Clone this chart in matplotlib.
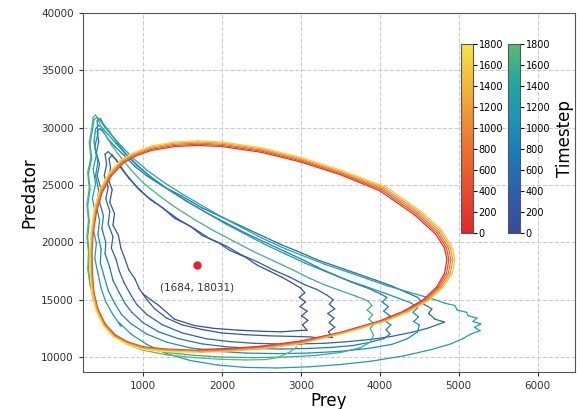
import numpy as np
import matplotlib.pyplot as plt
from matplotlib.collections import LineCollection
from matplotlib.colors import LinearSegmentedColormap, Normalize
from matplotlib.cm import ScalarMappable

# deterministic orbit, 5 loops growing slowly outwards (red -> yellow)
det_prey = [
    1700, 2100, 2500, 3000, 3500, 4000, 4300, 4550, 4720, 4820, 4850, 4820, 4710, 4440, 4000, 3500, 3000, 2500, 2000,
    1700, 1400, 1100, 900, 750, 600, 480, 410, 370, 355, 360, 380, 430, 520, 650, 800, 1000, 1300,
    1700, 2100, 2500, 3000, 3520, 4020, 4320, 4570, 4740, 4845, 4875, 4845, 4730, 4460, 4020, 3500, 3000, 2500, 2000,
    1700, 1400, 1100, 893, 743, 593, 473, 403, 363, 348, 353, 373, 424, 514, 644, 800, 1000, 1300,
    1700, 2100, 2500, 3000, 3540, 4040, 4340, 4590, 4760, 4870, 4900, 4870, 4750, 4480, 4040, 3500, 3000, 2500, 2000,
    1700, 1400, 1100, 886, 736, 586, 466, 396, 356, 341, 346, 366, 418, 508, 638, 800, 1000, 1300,
    1700, 2100, 2500, 3000, 3560, 4060, 4360, 4610, 4780, 4895, 4925, 4895, 4770, 4500, 4060, 3500, 3000, 2500, 2000,
    1700, 1400, 1100, 879, 729, 579, 459, 389, 349, 334, 339, 359, 412, 502, 632, 800, 1000, 1300,
    1700, 2100, 2500, 3000, 3580, 4080, 4380, 4630, 4800, 4920, 4950, 4920, 4790, 4520, 4080, 3500, 3000, 2500, 2000,
    1700, 1400, 1100, 872, 722, 572, 452, 382, 342, 327, 332, 352, 406, 496, 626, 800, 1000, 1300, 1700,
]
det_pred = [
    10650, 10750, 10950, 11400, 12150, 13150, 14000, 15000, 16100, 17300, 18500, 19500, 20700, 22400, 24500, 25900, 27000, 27850, 28350,
    28450, 28350, 28000, 27500, 26900, 25800, 24300, 22600, 20800, 19200, 17300, 15600, 14200, 12900, 11900, 11350, 10900, 10700,
    10590, 10690, 10890, 11340, 12150, 13150, 14000, 15000, 16100, 17300, 18500, 19500, 20780, 22480, 24580, 26000, 27100, 27950, 28450,
    28550, 28450, 28100, 27570, 26970, 25870, 24370, 22670, 20800, 19200, 17300, 15600, 14160, 12860, 11860, 11290, 10840, 10640,
    10530, 10630, 10830, 11280, 12150, 13150, 14000, 15000, 16100, 17300, 18500, 19500, 20860, 22560, 24660, 26100, 27200, 28050, 28550,
    28650, 28550, 28200, 27640, 27040, 25940, 24440, 22740, 20800, 19200, 17300, 15600, 14120, 12820, 11820, 11230, 10780, 10580,
    10470, 10570, 10770, 11220, 12150, 13150, 14000, 15000, 16100, 17300, 18500, 19500, 20940, 22640, 24740, 26200, 27300, 28150, 28650,
    28750, 28650, 28300, 27710, 27110, 26010, 24510, 22810, 20800, 19200, 17300, 15600, 14080, 12780, 11780, 11170, 10720, 10520,
    10410, 10510, 10710, 11160, 12150, 13150, 14000, 15000, 16100, 17300, 18500, 19500, 21020, 22720, 24820, 26300, 27400, 28250, 28750,
    28850, 28750, 28400, 27780, 27180, 26080, 24580, 22880, 20800, 19200, 17300, 15600, 14040, 12740, 11740, 11110, 10660, 10460, 10410,
]

# stochastic run (blue -> green)
sto_prey = [
    # loop 1
    1000, 1200, 1400, 1650, 1900, 2200, 2500, 2750, 2950, 3080, 3020, 3090, 3010, 3080, 2990, 3060, 2980, 3050, 3000,
    2880, 2750, 2600, 2450, 2300, 2100, 1950, 1750, 1600, 1400, 1250, 1100, 950, 820, 720, 660, 610, 570,
    590, 560, 610, 580, 640, 620, 690, 720, 770, 820, 900,
    # loop 2
    950, 1050, 1150, 1300, 1500, 1750, 2000, 2300, 2600, 2900, 3150, 3400, 3350, 3430, 3360, 3420, 3340, 3430, 3360, 3410, 3330,
    3200, 3050, 2850, 2650, 2450, 2250, 2050, 1850, 1650, 1450, 1250, 1050, 900, 780, 680, 610, 560, 520,
    540, 510, 560, 530, 580, 560, 620, 600, 660, 700, 760, 840,
    # loop 3
    920, 1050, 1250, 1500, 1800, 2100, 2400, 2700, 3000, 3300, 3600, 3900, 4150, 4400, 4600, 4820,
    4700, 4620, 4660, 4560, 4480, 4350, 4150, 3950, 3700, 3450, 3200, 3000, 2750, 2500, 2250, 2000, 1750, 1500, 1250,
    1050, 900, 760, 650, 560, 500, 460, 420,
    440, 410, 450, 420, 470, 450, 500, 480, 530, 520, 580, 620, 700, 780,
    # loop 4
    860, 1000, 1200, 1450, 1750, 2050, 2400, 2750, 3100, 3400, 3650, 3850, 4050, 4130,
    4080, 4140, 4060, 4130, 4050, 4110, 4030, 4090, 4010,
    3850, 3650, 3450, 3250, 3050, 2800, 2550, 2300, 2050, 1800, 1550, 1300, 1100, 950, 800, 680, 580, 500, 460, 420,
    430, 390, 430, 400, 440, 410, 450, 430, 470, 460, 510, 560, 640, 730,
    # loop 5
    850, 1050, 1300, 1600, 1950, 2300, 2700, 3100, 3500, 3850, 4150, 4350, 4480, 4500,
    4430, 4490, 4420, 4480, 4400,
    4250, 4050, 3800, 3550, 3300, 3050, 2800, 2550, 2300, 2050, 1800, 1550, 1300, 1100, 920, 780, 660, 560, 480, 440, 400,
    380, 410, 370, 400, 360, 400, 370, 410, 390, 430, 470, 530, 620, 720,
    # loop 6
    700, 850, 1050, 1300, 1600, 1950, 2300, 2700, 3100, 3500, 3900, 4300, 4650, 4900, 5050, 5150, 5270, 5200, 5280,
    5180, 5230, 5120, 5100, 4980, 4950, 4820, 4700, 4550, 4350, 4100, 3850, 3600, 3300, 3000, 2750, 2500, 2250, 2000,
    1750, 1500, 1250, 1050, 880, 740, 620, 520, 460, 420, 380,
    360, 330, 350, 310, 330, 300, 320, 300, 320, 310, 340, 380, 450, 540,
    # loop 7
    640, 800, 1000, 1300, 1650, 2000, 2400, 2800, 3200, 3500, 3750, 3880, 3920, 3880,
    3930, 3860, 3910, 3840, 3900, 3850,
    3700, 3500, 3300, 3100, 2900, 2650, 2400, 2150, 1900, 1650, 1400, 1200, 1000, 850, 720, 610, 530, 470, 430, 400, 370,
    350, 320, 340, 300, 320, 290, 310, 290, 310, 300, 330, 370, 440, 530,
    # loop 8 (partial)
    640, 800, 1000, 1300, 1650, 2000, 2300, 2550, 2700, 2850, 2950,
]
sto_pred = [
    # loop 1
    15500, 14500, 13300, 12750, 12500, 12350, 12250, 12200, 12300, 12350, 12800, 13200, 13600, 14000, 14400, 14800, 15200, 15600, 16000,
    16500, 17000, 17500, 18000, 18700, 19300, 20000, 20600, 21400, 22100, 23000, 23700, 24600, 25600, 26500, 27200, 27600, 27300,
    26500, 25500, 24600, 23500, 22500, 21500, 20600, 19500, 18600, 17600, 16800,
    # loop 2
    16000, 15000, 14200, 13400, 12800, 12400, 12100, 11950, 11850, 11800, 11750, 11750, 12200, 12600, 13000, 13400, 13800, 14200, 14600, 15000, 15400,
    15900, 16300, 17000, 17600, 18300, 18900, 19700, 20300, 21200, 22000, 23000, 24000, 25000, 26000, 27000, 27600, 27900, 27700,
    26800, 25800, 24800, 23800, 22700, 21600, 20500, 19500, 18500, 17500, 16500, 15500,
    # loop 3
    14600, 13700, 12800, 12100, 11600, 11350, 11200, 11150, 11150, 11200, 11350, 11550, 11800, 12150, 12500, 13050,
    13300, 13800, 14200, 14600, 15200, 15600, 16200, 16700, 17300, 17900, 18500, 19100, 19800, 20600, 21400, 22200, 23000, 24000, 24900,
    25800, 26600, 27600, 28300, 29000, 29600, 29900, 29700,
    28800, 27800, 26800, 25800, 24600, 23500, 22300, 21200, 20000, 19000, 17800, 16700, 15600, 14600,
    # loop 4
    13900, 13000, 12200, 11600, 11150, 10900, 10750, 10700, 10750, 10850, 11000, 11250, 11600, 12000,
    12400, 12800, 13200, 13600, 14000, 14400, 14800, 15200, 15500,
    16000, 16500, 17100, 17700, 18400, 19200, 20000, 20800, 21700, 22600, 23600, 24700, 25700, 26600, 27600, 28600, 29600, 30300, 30800, 30600,
    29500, 28300, 27000, 25800, 24500, 23200, 21900, 20700, 19400, 18200, 17000, 15800, 14700, 13700,
    # loop 5
    12900, 12000, 11300, 10800, 10500, 10350, 10300, 10350, 10500, 10750, 11100, 11600, 12200, 12800,
    13100, 13500, 13900, 14300, 14700,
    15100, 15600, 16200, 16800, 17500, 18200, 19000, 19800, 20700, 21600, 22600, 23600, 24700, 25700, 26700, 27700, 28600, 29400, 30000, 30200, 29900,
    28800, 27600, 26400, 25100, 23800, 22500, 21200, 19900, 18600, 17300, 16000, 14800, 13700, 12700,
    # loop 6
    13000, 12000, 11100, 10300, 9700, 9300, 9100, 9050, 9150, 9350, 9650, 10100, 10650, 11150, 11600, 12000, 12300, 12600, 12900,
    13100, 13400, 13600, 13900, 14100, 14500, 14700, 15000, 15300, 15700, 16200, 16800, 17400, 18100, 18900, 19600, 20400, 21300, 22200,
    23200, 24200, 25300, 26300, 27300, 28300, 29200, 30000, 30600, 30900, 30700,
    29800, 28600, 27300, 26000, 24600, 23200, 21800, 20400, 19000, 17600, 16200, 14900, 13700, 12700,
    # loop 7
    12000, 11300, 10800, 10400, 10150, 10000, 9950, 10000, 10150, 10400, 10800, 11300, 11900, 12500,
    12900, 13300, 13700, 14100, 14500, 14900,
    15300, 15800, 16300, 16900, 17600, 18400, 19200, 20100, 21000, 22000, 23100, 24100, 25200, 26300, 27400, 28400, 29300, 30100, 30700, 31100, 30900,
    29900, 28700, 27400, 26100, 24700, 23300, 21900, 20500, 19100, 17700, 16300, 15000, 13800, 12800,
    # loop 8 (partial)
    11900, 11100, 10600, 10200, 9950, 9800, 9750, 9780, 9950, 10400, 10900,
]

eq_prey, eq_pred = 1684, 18031
t_max = 1800
cbar_ticks = list(range(0, 2000, 200))

det_cmap = LinearSegmentedColormap.from_list("det", ["#e3262b", "#ee7b2d", "#f5e544"])
sto_cmap = LinearSegmentedColormap.from_list(
    "sto", ["#3b4a9a", "#2d5ea9", "#1d77b9", "#1b94b6", "#22a8a0", "#5cba6e"])
norm = Normalize(0, t_max)


def colored_line(ax, x, y, cmap, lw, z):
    pts = np.column_stack([x, y])
    segs = np.stack([pts[:-1], pts[1:]], axis=1)
    t = np.linspace(0, t_max, len(segs))
    lc = LineCollection(segs, cmap=cmap, norm=norm, linewidth=lw, zorder=z)
    lc.set_array(t)
    lc.set_capstyle("round")
    ax.add_collection(lc)
    return lc


fig = plt.figure(figsize=(5.8, 4.09), dpi=100)
ax = fig.add_axes([0.143, 0.0905, 0.848, 0.878])

colored_line(ax, sto_prey, sto_pred, sto_cmap, 0.9, 2)
colored_line(ax, det_prey, det_pred, det_cmap, 0.9, 3)

ax.plot(eq_prey, eq_pred, "o", color="#e8202a", markersize=5, zorder=4)
ax.annotate(f"({eq_prey}, {eq_pred})", (eq_prey, eq_pred), xytext=(0, -16),
            textcoords="offset points", ha="center", va="center", fontsize=7.5, color="#333333")

ax.set_xlim(240, 6470)
ax.set_ylim(8700, 40000)
ax.set_xticks([1000, 2000, 3000, 4000, 5000, 6000])
ax.set_yticks([10000, 15000, 20000, 25000, 30000, 35000, 40000])
ax.tick_params(labelsize=7.5, colors="#333333", length=3)
for sp in ax.spines.values():
    sp.set_color("#555555")
ax.grid(True, linestyle="--", color="#cccccc", linewidth=0.8)
ax.set_axisbelow(True)
ax.set_xlabel("Prey", fontsize=12, labelpad=1)
ax.set_ylabel("Predator", fontsize=12, labelpad=2)

cax1 = fig.add_axes([0.795, 0.430, 0.0207, 0.462])
cb1 = fig.colorbar(ScalarMappable(norm=norm, cmap=det_cmap), cax=cax1, ticks=cbar_ticks)
cax2 = fig.add_axes([0.876, 0.430, 0.0207, 0.462])
cb2 = fig.colorbar(ScalarMappable(norm=norm, cmap=sto_cmap), cax=cax2, ticks=cbar_ticks)
cb2.set_label("Timestep", fontsize=12)
for cb in (cb1, cb2):
    cb.ax.tick_params(labelsize=7, length=3, pad=1)
    cb.outline.set_edgecolor("#555555")

fig.savefig("out.png", dpi=100)
